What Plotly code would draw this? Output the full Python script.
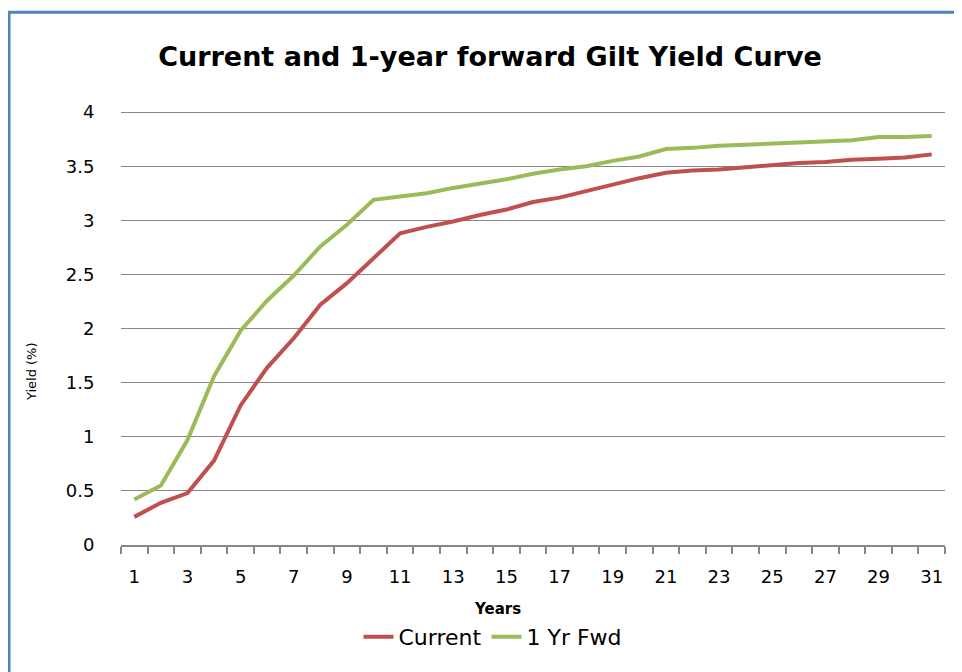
import plotly.graph_objects as go

years = list(range(1, 32))
current = [0.26, 0.39, 0.48, 0.78, 1.29, 1.64, 1.91, 2.22, 2.42, 2.65,
           2.88, 2.94, 2.99, 3.05, 3.10, 3.17, 3.21, 3.27, 3.33, 3.39,
           3.44, 3.46, 3.47, 3.49, 3.51, 3.53, 3.54, 3.56, 3.57, 3.58, 3.61]
fwd = [0.42, 0.55, 0.97, 1.56, 1.98, 2.26, 2.49, 2.76, 2.96, 3.19,
       3.22, 3.25, 3.30, 3.34, 3.38, 3.43, 3.47, 3.50, 3.55, 3.59,
       3.66, 3.67, 3.69, 3.70, 3.71, 3.72, 3.73, 3.74, 3.77, 3.77, 3.78]
y_ticks = [0, 0.5, 1, 1.5, 2, 2.5, 3, 3.5, 4]
y_labels = ["0", "0.5", "1", "1.5", "2", "2.5", "3", "3.5", "4"]
x_ticks = list(range(1, 32, 2))

FONT = "DejaVu Sans"
OFF = 8                     # page body margin
W, H = 962 - OFF, 672 - OFF
Y_TOP = 4.02
# page-coordinate plot box
PL, PR, PB = 121, 945, 545
PT = PB - (PB - 112) * Y_TOP / 4.0
L, R = PL - OFF, W - (PR - OFF)
T, B = PT - OFF, H - (PB - OFF)
pw, ph = W - L - R, H - T - B

def px(x):
    return (x - PL) / pw

def py(y):
    return (PB - y) / ph

fig = go.Figure()
fig.add_trace(go.Scatter(x=years, y=current, mode="lines", name="Current",
                         line=dict(color="#C0504D", width=4)))
fig.add_trace(go.Scatter(x=years, y=fwd, mode="lines", name="1 Yr Fwd",
                         line=dict(color="#9BBB59", width=4)))

fig.update_layout(
    width=W, height=H,
    margin=dict(l=L, r=R, t=T, b=B, pad=0, autoexpand=False),
    paper_bgcolor="white", plot_bgcolor="white",
    font=dict(family=FONT, color="black"),
    title=dict(text="<b>Current and 1-year forward Gilt Yield Curve</b>",
               xref="container", yref="container",
               x=(490 - OFF) / W, xanchor="center",
               y=1 - (57 - OFF) / H, yanchor="middle",
               font=dict(size=27, family=FONT, color="black")),
    showlegend=True,
    legend=dict(orientation="h", x=px(493), xanchor="center",
                y=py(637), yanchor="middle", font=dict(size=22),
                bgcolor="rgba(0,0,0,0)"),
    xaxis=dict(range=[0.5, 31.5], tickmode="array", tickvals=x_ticks,
               ticks="", showgrid=False, zeroline=False,
               showline=True, linecolor="#868686", linewidth=2,
               tickfont=dict(size=18), ticklabelstandoff=14,
               minor=dict(tickmode="array",
                          tickvals=[v + 0.5 for v in range(0, 32)],
                          ticks="outside", ticklen=7, tickwidth=1.5,
                          tickcolor="#868686", showgrid=False)),
    yaxis=dict(range=[0, Y_TOP], tickmode="array", tickvals=y_ticks,
               ticktext=y_labels, showgrid=True, gridcolor="#868686",
               gridwidth=1.3, zeroline=False, showline=False,
               ticks="outside", ticklen=22, tickcolor="rgba(0,0,0,0)",
               tickfont=dict(size=18)),
)

fig.add_annotation(text="<b>Years</b>", x=px(497), y=py(609), xref="paper",
                   yref="paper", showarrow=False, font=dict(size=15),
                   xanchor="center", yanchor="middle")
fig.add_annotation(text="Yield (%)", x=px(31), y=py(372), xref="paper",
                   yref="paper", showarrow=False, font=dict(size=13),
                   textangle=-90, xanchor="center", yanchor="middle")

fig.add_shape(type="rect", xref="paper", yref="paper",
              x0=px(9), x1=px(985), y0=py(700), y1=py(12),
              line=dict(color="#4F81BD", width=3), fillcolor="rgba(0,0,0,0)",
              layer="below")

fig.write_html("out.html")
